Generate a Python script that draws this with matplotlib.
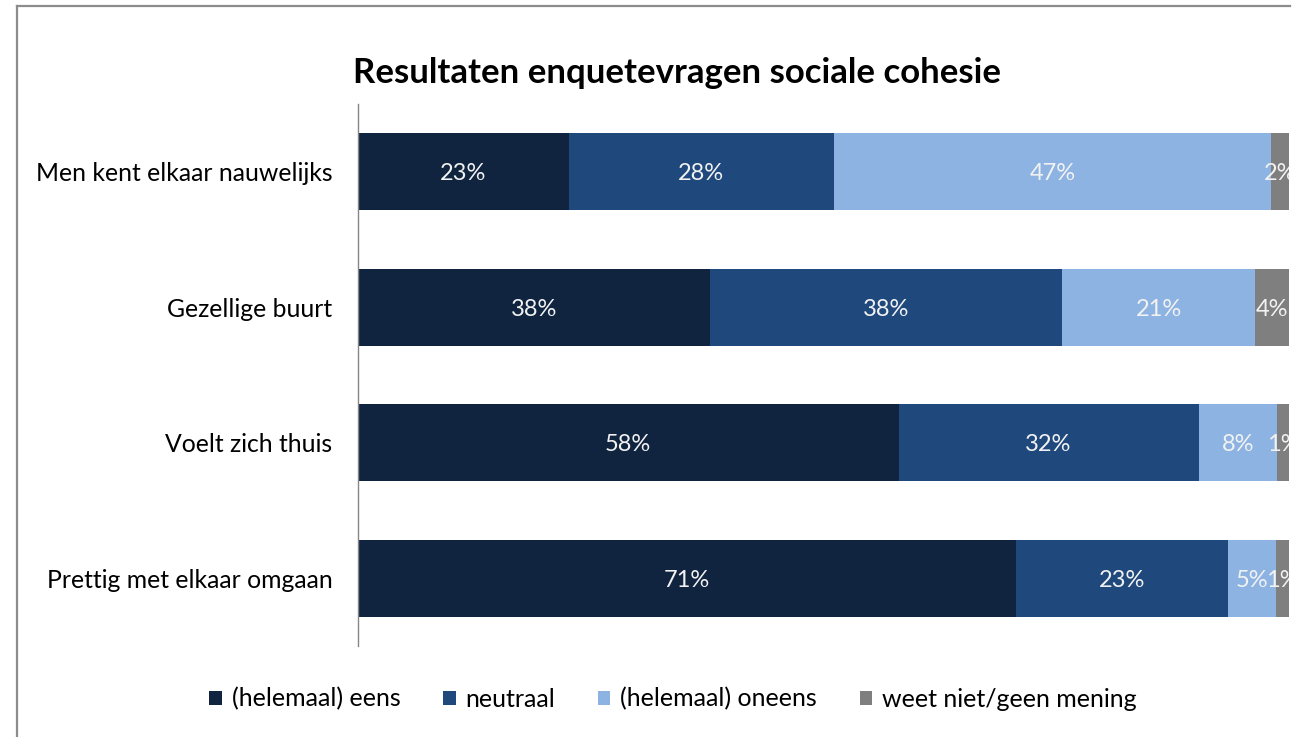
import matplotlib
matplotlib.use("Agg")
import matplotlib.pyplot as plt
from matplotlib.lines import Line2D
import numpy as np

plt.rcParams['font.family'] = ['Lato', 'DejaVu Sans']

categories = ["Men kent elkaar nauwelijks", "Gezellige buurt", "Voelt zich thuis", "Prettig met elkaar omgaan"]
series_names = ["(helemaal) eens", "neutraal", "(helemaal) oneens", "weet niet/geen mening"]
eens = [22.6, 37.8, 58.0, 70.7]
neutraal = [28.4, 37.8, 32.2, 22.8]
oneens = [46.9, 20.8, 8.4, 5.2]
weet_niet = [1.9, 3.6, 1.3, 1.4]
colors = ["#10243F", "#1F497D", "#8DB3E2", "#7F7F7F"]
title = "Resultaten enquetevragen sociale cohesie"

W, H = 1300, 737
fig = plt.figure(figsize=(W / 100, H / 100), dpi=100)
ax = fig.add_axes([358 / W, 1 - 646 / H, 931 / W, 542 / H])

data = np.array([eens, neutraal, oneens, weet_niet])
totals = data.sum(axis=0)
ypos = np.arange(len(categories))
left = np.zeros(len(categories))
handles = []
for i, name in enumerate(series_names):
    widths = data[i] / totals * 100
    bars = ax.barh(ypos, widths, left=left, height=0.57, color=colors[i], label=name)
    handles.append(bars)
    for j in range(len(categories)):
        ax.text(left[j] + widths[j] / 2, ypos[j] + 0.015, f"{data[i][j]:.0f}%", ha='center', va='center',
                color='#F2F2F2', fontsize=17, clip_on=True)
    left += widths

ax.set_xlim(0, 100)
ax.set_ylim(3.5, -0.5)
ax.set_yticks(ypos)
ax.set_yticklabels(categories, fontsize=17.8)
ax.tick_params(axis='y', length=0, pad=18.5)
ax.set_xticks([])
for s in ['top', 'right', 'bottom']:
    ax.spines[s].set_visible(False)
ax.spines['left'].set_color('#868686')
ax.spines['left'].set_linewidth(1.0)

fig.text(677 / W, 1 - 73 / H, title, ha='center', va='center', fontsize=25, fontweight='bold')

leg = fig.legend(handles=handles, labels=series_names, loc='center', ncol=4,
                 bbox_to_anchor=(673 / W, 1 - 699 / H), frameon=False, fontsize=18,
                 handlelength=0.5, handleheight=0.5, handletextpad=0.4, columnspacing=1.7)

fig.add_artist(Line2D([17 / W, 17 / W], [0, 1 - 5.5 / H], color='#8C8C8C', linewidth=1.6))
fig.add_artist(Line2D([17 / W, 1290 / W], [1 - 5.5 / H, 1 - 5.5 / H], color='#8C8C8C', linewidth=1.6))

fig.savefig("out.png", dpi=100)
